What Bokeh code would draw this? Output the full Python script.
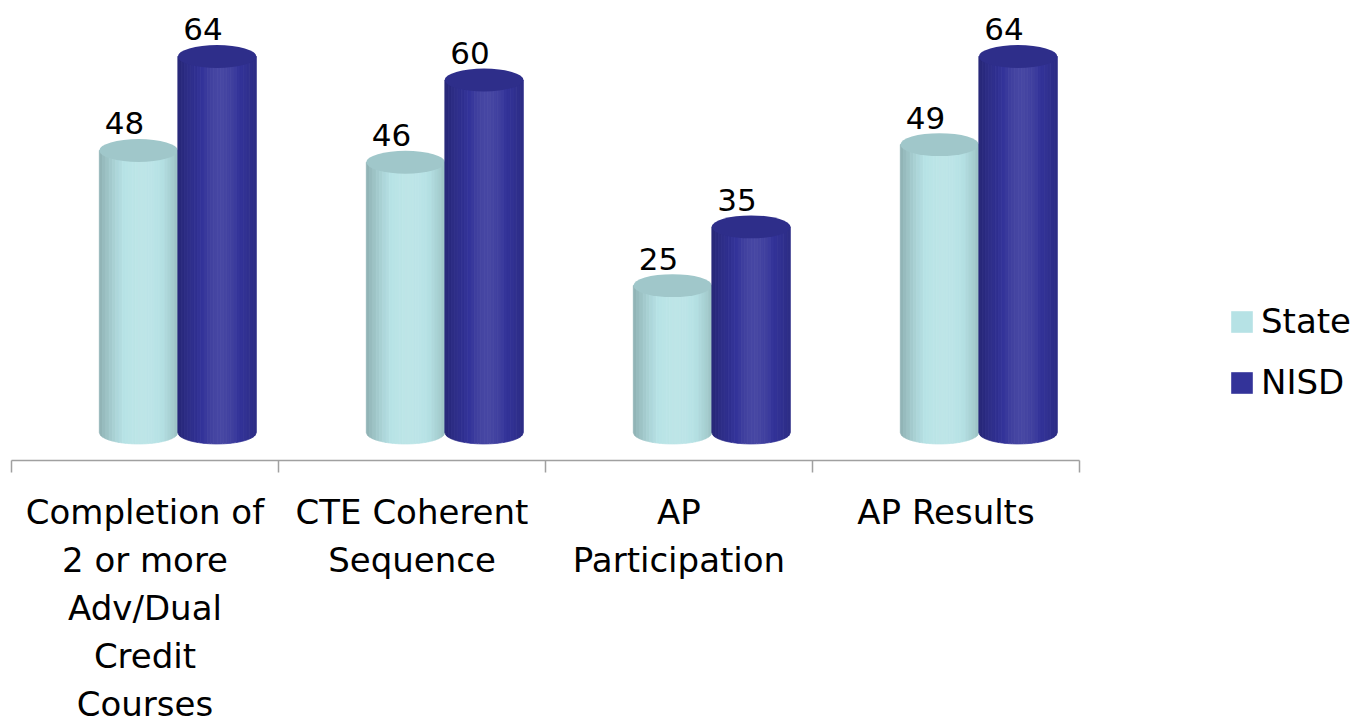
import math
from bokeh.plotting import figure
from bokeh.models import (ColumnDataSource, Range1d, FixedTicker, LabelSet,
                          Legend, LegendItem)
from bokeh.core.properties import value
from bokeh.embed import file_html
from bokeh.resources import INLINE

# ---- data ----
categories = ["Completion of\n2 or more\nAdv/Dual\nCredit\nCourses",
              "CTE Coherent\nSequence",
              "AP\nParticipation",
              "AP Results"]
series = ["State", "NISD"]
state = [48, 46, 25, 49]
nisd = [64, 60, 35, 64]

# ---- styles ----
STATE_COLOR = "#b6e2e5"
NISD_COLOR = "#333399"
FONT = "DejaVu Sans"
BAR_W = 0.294          # cylinder width (category units)
OFFSETS = [-0.024, 0.270]  # shift of each series from category centre (3D look)
ELL_H = 3.9            # ellipse height in value units
N_STRIPS = 24


def hex_to_rgb(h):
    h = h.lstrip("#")
    return [int(h[i:i + 2], 16) for i in (0, 2, 4)]


def shade(hexc, f):
    out = []
    for c in hex_to_rgb(hexc):
        if f <= 1:
            v = c * f
        else:
            v = c + (255 - c) * (f - 1) * 1.6
        out.append(max(0, min(255, int(round(v)))))
    return "#%02x%02x%02x" % tuple(out)


def bright(t):
    return 0.78 + 0.28 * math.cos((t - 0.55) * math.pi / 1.1)


p = figure(frame_width=1068, frame_height=452, title=None,
           x_range=Range1d(-0.5, 3.5), y_range=Range1d(-4.766, 72.17),
           output_backend="svg", toolbar_location=None,
           y_axis_location=None, min_border_left=11, min_border_right=268,
           min_border_top=8, min_border_bottom=0)
p.outline_line_color = None
p.xgrid.visible = False
p.ygrid.visible = False
p.background_fill_color = "white"
p.border_fill_color = "white"

values_by_series = [state, nisd]
colors = [STATE_COLOR, NISD_COLOR]
top_colors = [shade(STATE_COLOR, 0.88), shade(NISD_COLOR, 0.9)]
legend_renderers = []
label_x, label_y, label_t = [], [], []

for s, (vals, col, off) in enumerate(zip(values_by_series, colors, OFFSETS)):
    xs, ys, fills = [], [], []
    tx, ty = [], []
    a = BAR_W / 2.0
    b = ELL_H / 2.0
    for i, v in enumerate(vals):
        xc = i + off
        for j in range(N_STRIPS):
            xa = xc - a + 2 * a * j / N_STRIPS
            xb = xc - a + 2 * a * (j + 1) / N_STRIPS
            bx = [xa + (xb - xa) * k / 3.0 for k in range(4)]
            by = [-b * math.sqrt(max(0.0, 1 - ((x - xc) / a) ** 2)) for x in bx]
            xs.append([xa, xb] + bx[::-1])
            ys.append([v, v] + by[::-1])
            fills.append(shade(col, bright((j + 0.5) / N_STRIPS)))
        tx.append(xc)
        ty.append(v)
        label_x.append(xc)
        label_y.append(v)
        label_t.append(str(v))
    src = ColumnDataSource(dict(xs=xs, ys=ys, fill=fills))
    p.patches("xs", "ys", source=src, fill_color="fill", line_color="fill",
              line_width=0.8)
    p.ellipse(x=tx, y=ty, width=BAR_W, height=ELL_H,
              fill_color=top_colors[s], line_color=None)
    # zero-area swatch renderer used only for the legend
    r = p.quad(left=[tx[0]], right=[tx[0]], top=[0], bottom=[0],
               fill_color=col, line_color=None)
    legend_renderers.append(r)

labels = LabelSet(x="x", y="y", text="t",
                  source=ColumnDataSource(dict(x=label_x, y=label_y, t=label_t)),
                  x_offset=-14, y_offset=16, text_align="center",
                  text_baseline="alphabetic", text_font=value(FONT),
                  text_font_size=value("31px"), text_color="black")
p.add_layout(labels)

ax = p.xaxis[0]
ax.ticker = FixedTicker(ticks=[0, 1, 2, 3], minor_ticks=[-0.5, 0.5, 1.5, 2.5, 3.5])
ax.major_label_overrides = {i: c for i, c in enumerate(categories)}
ax.major_tick_out = 0
ax.major_tick_in = 0
ax.minor_tick_out = 12
ax.minor_tick_in = 0
ax.minor_tick_line_color = "#a0a0a0"
ax.minor_tick_line_width = 1.5
ax.axis_line_color = "#a0a0a0"
ax.axis_line_width = 1.5
ax.major_label_text_font = FONT
ax.major_label_text_font_size = "34px"
ax.major_label_text_color = "black"
ax.major_label_standoff = 19
ax.major_label_text_line_height = 1.2

legend = Legend(items=[LegendItem(label=series[k], renderers=[legend_renderers[k]])
                       for k in range(2)],
                location=(149, 58), glyph_width=27, glyph_height=27,
                label_text_font=FONT, label_text_font_size="34px",
                label_text_color="black",
                label_standoff=6, spacing=21, padding=0, margin=0,
                label_height=40, border_line_color=None,
                background_fill_alpha=0)
p.add_layout(legend, "right")

open("out.html", "w").write(file_html(p, INLINE))
